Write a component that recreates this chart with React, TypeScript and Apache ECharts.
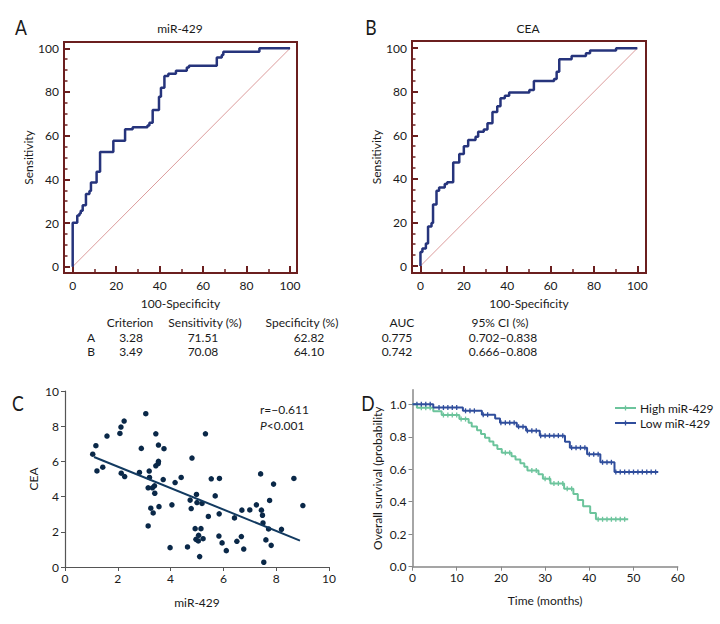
import React, { useEffect, useRef } from "react";
import * as echarts from "echarts";

const FONT = "Lato, 'DejaVu Sans Condensed', sans-serif";
const MAROON = "#6b1f1f";
const NAVY = "#26347c";
const TXT = "#1a1a1a";

// ROC curve A (miR-429): [100-Specificity, Sensitivity]
const rocA: number[][] = [
  [0, 0], [0, 20.1], [2.1, 23.4], [3.1, 24.4], [3.7, 25.6], [4.6, 28.1], [6.1, 33.3],
  [7.7, 34.6], [8.4, 38.5], [11.0, 43.5], [12.6, 52.5], [18.7, 57.7], [24.1, 62.9],
  [27.6, 63.8], [34.4, 64.6], [35.3, 65.9], [36.8, 71.7], [39.7, 77.8], [40.6, 82.0],
  [42.2, 87.3], [44.0, 88.4], [47.5, 89.7], [52.5, 91.2], [53.5, 92.0], [66.3, 95.8],
  [68.6, 96.9], [69.3, 98.4], [85.9, 100], [100, 100],
];
// ROC curve B (CEA)
const rocB: number[][] = [
  [0, 0], [0, 6.4], [0.9, 8.0], [2.5, 10.3], [3.5, 18.2], [5.1, 19.8], [5.8, 28.2],
  [7.4, 34.5], [8.6, 36.0], [11.2, 37.6], [12.3, 38.5], [15.1, 47.5], [17.9, 51.4],
  [20.0, 55.0], [22.0, 57.8], [25.4, 59.3], [26.6, 61.6], [29.2, 62.7], [30.9, 65.5],
  [33.2, 70.7], [35.4, 73.4], [36.9, 77.0], [38.9, 78.2], [40.9, 79.7], [50.2, 80.8],
  [52.3, 84.9], [61.6, 85.9], [62.8, 89.2], [64.0, 94.9], [69.7, 96.4], [76.3, 97.7],
  [78.2, 98.9], [90.2, 100], [100, 100],
];
const diagonal: number[][] = [[0, 0], [100, 100]];
const rocXMinor = [0, 10, 20, 30, 40, 50, 60, 70, 80, 90, 100];
const rocMajor = [0, 20, 40, 60, 80, 100];
const rocYMinor = [0, 5, 10, 15, 20, 25, 30, 35, 40, 45, 50, 55, 60, 65, 70, 75, 80, 85, 90, 95, 100];

// Scatter C
const scatterMiR = [
  1.05, 1.17, 1.21, 1.43, 1.59, 2.08, 2.12, 2.24, 2.13, 2.26, 2.82, 2.89, 3.06, 3.19, 3.2,
  3.15, 3.15, 3.25, 3.34, 3.31, 3.39, 3.4, 3.44, 3.44, 3.53, 3.54, 3.54, 3.56, 3.72, 3.75,
  3.98, 4.05, 4.17, 4.4, 4.64, 4.74, 4.78, 4.81, 4.93, 4.96, 4.98, 5.0, 5.05, 5.06, 5.1,
  5.15, 5.19, 5.23, 5.32, 5.43, 5.54, 5.69, 5.84, 5.85, 5.83, 5.95, 6.11, 6.42, 6.51, 6.68,
  6.7, 6.77, 7.0, 7.25, 7.41, 7.44, 7.48, 7.5, 7.53, 7.61, 7.71, 7.75, 7.81, 7.9, 8.2,
  8.67, 9.01,
];
const scatterCEA = [
  6.41, 6.89, 5.46, 5.67, 7.44, 7.59, 7.95, 8.29, 5.33, 5.14, 5.37, 6.74, 8.71, 5.45, 5.09,
  4.5, 2.33, 3.34, 3.07, 4.5, 4.61, 4.19, 7.57, 5.75, 5.88, 6.0, 6.93, 3.43, 4.97, 6.72,
  1.1, 3.53, 4.8, 5.09, 1.14, 3.8, 3.32, 6.19, 2.18, 1.57, 4.12, 3.66, 1.48, 1.8, 0.59,
  2.18, 3.61, 1.61, 7.57, 2.87, 5.01, 4.04, 3.02, 5.03, 1.76, 1.37, 0.93, 2.79, 1.46, 1.73,
  3.23, 1.02, 3.24, 3.53, 5.29, 3.23, 2.94, 2.5, 0.27, 1.54, 2.16, 3.78, 1.23, 4.71, 2.14,
  5.03, 3.49,
];
const regressionLine: number[][] = [[1.1, 6.25], [8.9, 1.5]];

// Kaplan-Meier D: [months, survival]
const kmHigh: number[][] = [
  [0, 1.0], [1.0, 0.979], [4.7, 0.957], [6.6, 0.934], [10.6, 0.909], [12.7, 0.886],
  [13.4, 0.863], [14.6, 0.84], [15.5, 0.817], [16.4, 0.794], [17.4, 0.771], [18.3, 0.748],
  [19.2, 0.725], [20.2, 0.702], [22.4, 0.68], [23.3, 0.66], [24.4, 0.637], [25.3, 0.615],
  [26.0, 0.593], [28.5, 0.57], [29.5, 0.542], [31.2, 0.513], [34.3, 0.48], [36.4, 0.447],
  [37.4, 0.41], [38.6, 0.372], [40.2, 0.33], [41.5, 0.292], [48.8, 0.292],
];
const kmLow: number[][] = [
  [0, 1.0], [4.7, 0.98], [11.4, 0.96], [15.7, 0.936], [18.7, 0.912], [19.8, 0.887],
  [23.6, 0.862], [25.7, 0.837], [28.8, 0.807], [34.5, 0.77], [35.6, 0.733], [39.5, 0.692],
  [42.5, 0.643], [45.7, 0.583], [55.6, 0.583],
];
const censorHigh = [2, 3, 4, 7, 8, 9, 10, 11, 12, 21, 22, 27, 28, 30, 31, 32, 33, 34, 35, 36, 42, 43, 44, 45, 46, 47, 48];
const censorLow = [1, 2, 3, 4, 6, 7, 8, 9, 10, 12, 13, 14, 16, 17, 20, 21, 22, 23, 24, 25, 26, 27, 28, 29, 30, 31, 32, 33, 34, 36, 37, 38, 39, 40, 41, 42, 43, 44, 45, 46, 47, 48, 49, 50, 51, 52, 53, 54, 55];
const kmYTicks = [0, 0.2, 0.4, 0.6, 0.8, 1.0];

const tableHeader = ["Criterion", "Sensitivity (%)", "Specificity (%)", "AUC", "95% CI (%)"];
const tableRows = [
  ["A", "3.28", "71.51", "62.82", "0.775", "0.702\u20130.838"],
  ["B", "3.49", "70.08", "64.10", "0.742", "0.666\u20130.808"],
];

function stepValue(curve: number[][], t: number): number {
  let v = curve[0][1];
  for (const p of curve) {
    if (p[0] <= t) v = p[1];
  }
  return v;
}

const labelStyle = { fontFamily: FONT, fontSize: 12, color: TXT };

function rocAxes(gridIndex: number, xMin: number, xMax: number, yMin: number, yMax: number) {
  const xBase = {
    type: "value", gridIndex, min: xMin, max: xMax, position: "bottom",
    axisLine: { show: false, onZero: false }, splitLine: { show: false },
  };
  const yBase = {
    type: "value", gridIndex, min: yMin, max: yMax, position: "left",
    axisLine: { show: false, onZero: false }, splitLine: { show: false },
  };
  return {
    x: [
      {
        ...xBase,
        axisTick: { show: true, inside: true, length: 4, lineStyle: { color: MAROON, width: 1.5 }, customValues: rocXMinor },
        axisLabel: { ...labelStyle, margin: 6, customValues: rocMajor },
        name: "100-Specificity", nameLocation: "middle", nameGap: 24,
        nameTextStyle: { ...labelStyle },
      },
      {
        ...xBase,
        axisTick: { show: true, inside: true, length: 7, lineStyle: { color: MAROON, width: 2 }, customValues: rocMajor },
        axisLabel: { show: false },
      },
    ],
    y: [
      {
        ...yBase,
        axisTick: { show: true, inside: true, length: 3.5, lineStyle: { color: MAROON, width: 1.5 }, customValues: rocYMinor },
        axisLabel: { ...labelStyle, margin: 5, customValues: rocMajor },
        name: "Sensitivity", nameLocation: "middle", nameGap: 30,
        nameTextStyle: { ...labelStyle },
      },
      {
        ...yBase,
        axisTick: { show: true, inside: true, length: 6, lineStyle: { color: MAROON, width: 2 }, customValues: rocMajor },
        axisLabel: { show: false },
      },
    ],
  };
}

export default function App() {
  const ref = useRef<HTMLDivElement>(null);
  useEffect(() => {
    if (!ref.current) return;
    const chart = echarts.init(ref.current, null, { renderer: "svg" });
    const a = rocAxes(0, -4, 103.2, -2.9, 102.9);
    const b = rocAxes(1, -3.9, 104, -3.2, 103.3);
    const grayAxis = "#555";
    const txt = (text: string, x: number, y: number, align = "center", size = 12, sx = 1) => ({
      type: "text", x, y, scaleX: sx,
      style: { text, fontFamily: FONT, fontSize: size, fill: TXT, align, verticalAlign: "middle" },
    });
    const option: any = {
      animation: false,
      backgroundColor: "#fff",
      grid: [
        { left: 64, top: 42, width: 233, height: 231, show: true, borderColor: MAROON, borderWidth: 2, backgroundColor: "transparent" },
        { left: 412, top: 41, width: 234, height: 232, show: true, borderColor: MAROON, borderWidth: 2, backgroundColor: "transparent" },
        { left: 65, top: 391, width: 264, height: 176 },
        { left: 412.5, top: 389.7, width: 265.2, height: 177 },
      ],
      xAxis: [
        ...a.x, ...b.x,
        {
          type: "value", gridIndex: 2, min: 0, max: 10, interval: 2,
          axisLine: { show: true, onZero: false, lineStyle: { color: grayAxis, width: 1.2 } },
          axisTick: { show: true, length: 4, lineStyle: { color: grayAxis } },
          axisLabel: { ...labelStyle, margin: 5 },
          splitLine: { show: false },
          name: "miR-429", nameLocation: "middle", nameGap: 29, nameTextStyle: { ...labelStyle },
        },
        {
          type: "value", gridIndex: 3, min: 0, max: 60, interval: 10,
          axisLine: { show: true, onZero: false, lineStyle: { color: "#888", width: 1.5 } },
          axisTick: { show: true, length: 4, lineStyle: { color: "#888" } },
          axisLabel: { ...labelStyle, margin: 5 },
          splitLine: { show: false },
          name: "Time (months)", nameLocation: "middle", nameGap: 28, nameTextStyle: { ...labelStyle },
        },
      ],
      yAxis: [
        ...a.y, ...b.y,
        {
          type: "value", gridIndex: 2, min: 0, max: 10, interval: 2,
          axisLine: { show: true, onZero: false, lineStyle: { color: grayAxis, width: 1.2 } },
          axisTick: { show: true, length: 4, lineStyle: { color: grayAxis } },
          axisLabel: { ...labelStyle, margin: 6 },
          splitLine: { show: false },
          name: "CEA", nameLocation: "middle", nameGap: 26, nameTextStyle: { ...labelStyle },
        },
        {
          type: "value", gridIndex: 3, min: 0, max: 1.09,
          axisLine: { show: true, onZero: false, lineStyle: { color: "#888", width: 1.5 } },
          axisTick: { show: true, length: 4, lineStyle: { color: "#888" }, customValues: kmYTicks },
          axisLabel: { ...labelStyle, margin: 6, customValues: kmYTicks, formatter: (v: number) => v.toFixed(1) },
          splitLine: { show: false },
          name: "Overall survival (probability", nameLocation: "middle", nameGap: 29, nameTextStyle: { ...labelStyle },
        },
      ],
      series: [
        { type: "line", xAxisIndex: 0, yAxisIndex: 0, data: diagonal, symbol: "none", lineStyle: { color: "#dc9c9c", width: 1 } },
        { type: "line", xAxisIndex: 0, yAxisIndex: 0, data: rocA, step: "end", symbol: "none", lineStyle: { color: NAVY, width: 2.5 } },
        { type: "line", xAxisIndex: 2, yAxisIndex: 2, data: diagonal, symbol: "none", lineStyle: { color: "#dc9c9c", width: 1 } },
        { type: "line", xAxisIndex: 2, yAxisIndex: 2, data: rocB, step: "end", symbol: "none", lineStyle: { color: NAVY, width: 2.5 } },
        {
          type: "scatter", xAxisIndex: 4, yAxisIndex: 4, symbolSize: 5.5,
          itemStyle: { color: "#0a2848", opacity: 1 },
          data: scatterMiR.map((x, i) => [x, scatterCEA[i]]),
        },
        { type: "line", xAxisIndex: 4, yAxisIndex: 4, data: regressionLine, symbol: "none", lineStyle: { color: "#123a60", width: 2 } },
        { type: "line", xAxisIndex: 5, yAxisIndex: 5, data: kmHigh, step: "end", symbol: "none", lineStyle: { color: "#6cc49c", width: 2 } },
        { type: "line", xAxisIndex: 5, yAxisIndex: 5, data: kmLow, step: "end", symbol: "none", lineStyle: { color: "#2f4d9c", width: 2 } },
        {
          type: "scatter", xAxisIndex: 5, yAxisIndex: 5, symbol: "rect", symbolSize: [1.3, 5],
          itemStyle: { color: "#6cc49c", opacity: 1 },
          data: censorHigh.map((t) => [t, stepValue(kmHigh, t)]),
        },
        {
          type: "scatter", xAxisIndex: 5, yAxisIndex: 5, symbol: "rect", symbolSize: [1.3, 5],
          itemStyle: { color: "#2f4d9c", opacity: 1 },
          data: censorLow.map((t) => [t, stepValue(kmLow, t)]),
        },
      ],
      graphic: [
        txt("A", 21, 26, "center", 22, 0.8),
        txt("B", 371, 26, "center", 22, 0.8),
        txt("C", 18, 402, "center", 22, 0.8),
        txt("D", 368, 402, "center", 22, 0.8),
        txt("miR-429", 180, 28),
        txt("CEA", 528, 28),
        ...tableHeader.map((h, i) => txt(h, [130, 205, 302, 402, 500][i], 322)),
        ...tableRows.flatMap((row, r) => row.map((cell, i) => txt(cell, [91, 131, 203, 309, 397, 503][i], 337 + r * 14))),
        txt("r=\u22120.611", 260, 409, "left"),
        {
          type: "text", x: 260, y: 425,
          style: {
            text: "{i|P}<0.001", fontFamily: FONT, fontSize: 12, fill: TXT, align: "left", verticalAlign: "middle",
            rich: { i: { fontStyle: "italic", fontFamily: FONT, fontSize: 12, fill: TXT } },
          },
        },
        { type: "line", shape: { x1: 615, y1: 408, x2: 636, y2: 408 }, style: { stroke: "#6cc49c", lineWidth: 2 } },
        { type: "line", shape: { x1: 625.5, y1: 405.5, x2: 625.5, y2: 410.5 }, style: { stroke: "#6cc49c", lineWidth: 1.3 } },
        txt("High miR-429", 640, 408, "left"),
        { type: "line", shape: { x1: 615, y1: 423, x2: 636, y2: 423 }, style: { stroke: "#2f4d9c", lineWidth: 2 } },
        { type: "line", shape: { x1: 625.5, y1: 420.5, x2: 625.5, y2: 425.5 }, style: { stroke: "#2f4d9c", lineWidth: 1.3 } },
        txt("Low miR-429", 640, 423, "left"),
      ],
    };
    chart.setOption(option);
    return () => chart.dispose();
  }, []);
  return (
    <div
      ref={ref}
      style={{ position: "fixed", left: 0, top: 0, width: 720, height: 624, background: "#fff" }}
    />
  );
}
